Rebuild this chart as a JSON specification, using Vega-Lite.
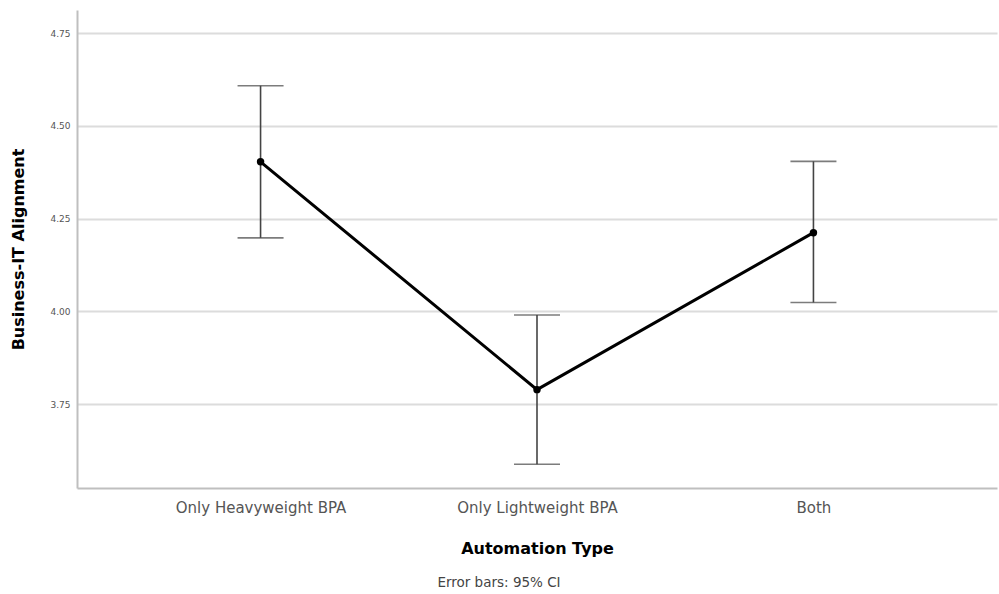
{
  "$schema": "https://vega.github.io/schema/vega-lite/v6.json",
  "width": 920,
  "height": 478,
  "autosize": "none",
  "padding": {"left": 77, "top": 10, "right": 2, "bottom": 106},
  "background": "white",
  "config": {"view": {"stroke": null}, "font": "DejaVu Sans"},
  "title": {"text": "Error bars: 95% CI", "orient": "bottom", "anchor": "middle", "dx": -38, "offset": 20, "fontSize": 13.5, "fontWeight": "normal", "color": "#444444"},
  "data": {"values": [
    {"type": "Only Heavyweight BPA", "mean": 4.403, "lower": 4.198, "upper": 4.608},
    {"type": "Only Lightweight BPA", "mean": 3.789, "lower": 3.588, "upper": 3.990},
    {"type": "Both", "mean": 4.212, "lower": 4.024, "upper": 4.404}
  ]},
  "encoding": {
    "x": {"field": "type", "type": "nominal", "sort": ["Only Heavyweight BPA", "Only Lightweight BPA", "Both"],
      "scale": {"type": "point", "padding": 0.664},
      "axis": {"title": "Automation Type", "titleFontSize": 16, "titleFontWeight": "bold", "titleColor": "#000000", "titlePadding": 25,
        "labelAngle": 0, "labelFontSize": 15, "labelColor": "#555555", "labelPadding": 12, "ticks": false,
        "domainColor": "#bfbfbf", "domainWidth": 2, "grid": false}}
  },
  "layer": [
    {"mark": {"type": "line", "color": "#000000", "strokeWidth": 3},
     "encoding": {"y": {"field": "mean", "type": "quantitative",
       "scale": {"domain": [3.524, 4.812], "zero": false, "nice": false},
       "axis": {"title": "Business-IT Alignment", "titleFontSize": 16, "titleFontWeight": "bold", "titleColor": "#000000", "titlePadding": 23,
         "values": [3.75, 4.0, 4.25, 4.5, 4.75], "format": ".2f", "labelFontSize": 9, "labelColor": "#555555", "labelPadding": 7, "ticks": false,
         "domainColor": "#bfbfbf", "domainWidth": 2, "grid": true, "gridColor": "#dcdcdc", "gridWidth": 2}}}},
    {"mark": {"type": "rule", "color": "#444444", "strokeWidth": 1.6},
     "encoding": {"y": {"field": "lower", "type": "quantitative"}, "y2": {"field": "upper"}}},
    {"mark": {"type": "tick", "color": "#444444", "thickness": 1.6, "size": 46},
     "encoding": {"y": {"field": "upper", "type": "quantitative"}}},
    {"mark": {"type": "tick", "color": "#444444", "thickness": 1.6, "size": 46},
     "encoding": {"y": {"field": "lower", "type": "quantitative"}}},
    {"mark": {"type": "point", "filled": true, "color": "#000000", "size": 55, "opacity": 1},
     "encoding": {"y": {"field": "mean", "type": "quantitative"}}}
  ]
}
